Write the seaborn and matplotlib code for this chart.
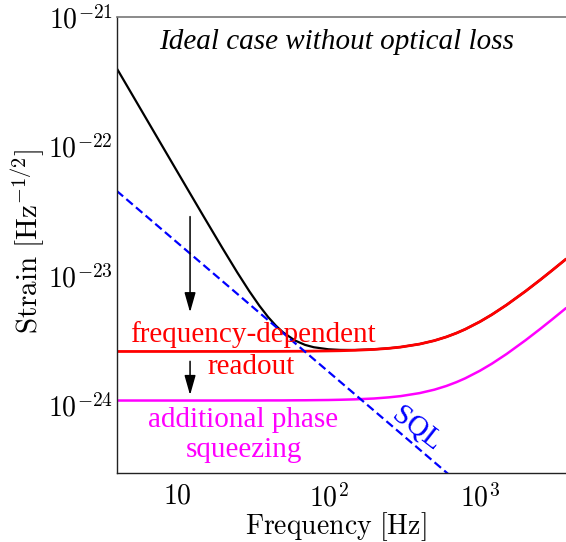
import matplotlib
matplotlib.use("Agg")
import matplotlib.pyplot as plt
import seaborn as sns
import pandas as pd

# ---- data (strain in units of 1e-24 /sqrt(Hz)) ----
freq = [4, 5, 6, 7, 8, 10, 12, 15, 20, 25, 30, 35, 40, 45, 50, 60, 70, 80,
        100, 120, 150, 200, 250, 300, 400, 500, 600, 700, 800, 1000, 1200,
        1500, 2000, 2500, 3000, 3700]
conventional = [404.0, 258.6, 179.6, 131.9, 101.0, 64.69, 44.97, 28.85, 16.37,
                10.66, 7.642, 5.889, 4.812, 4.127, 3.678, 3.176, 2.935, 2.814,
                2.713, 2.683, 2.680, 2.712, 2.762, 2.824, 2.978, 3.166, 3.382,
                3.621, 3.878, 4.435, 5.032, 5.978, 7.631, 9.335, 11.07, 13.52]
freq_dep_readout = [2.610, 2.610, 2.610, 2.610, 2.610, 2.610, 2.610, 2.611,
                    2.611, 2.612, 2.612, 2.613, 2.614, 2.615, 2.616, 2.619,
                    2.622, 2.626, 2.635, 2.645, 2.665, 2.707, 2.760, 2.823,
                    2.978, 3.166, 3.382, 3.621, 3.878, 4.435, 5.032, 5.978,
                    7.631, 9.335, 11.07, 13.52]
phase_squeezed = [1.090, 1.090, 1.090, 1.090, 1.090, 1.090, 1.090, 1.090,
                  1.090, 1.091, 1.091, 1.091, 1.092, 1.092, 1.092, 1.094,
                  1.095, 1.097, 1.100, 1.105, 1.113, 1.130, 1.153, 1.179,
                  1.244, 1.322, 1.412, 1.512, 1.619, 1.852, 2.101, 2.496,
                  3.187, 3.898, 4.622, 5.646]
sql_freq = [4, 10, 100, 1000, 3700]
sql_strain = [45.5, 18.2, 1.82, 0.182, 0.0492]
scale = 1e-24

x_ticks = [10, 100, 1000]
x_tick_labels = [r"$10$", r"$10^2$", r"$10^3$"]
y_ticks = [1e-24, 1e-23, 1e-22, 1e-21]
y_tick_labels = [r"$10^{-24}$", r"$10^{-23}$", r"$10^{-22}$", r"$10^{-21}$"]

df = pd.DataFrame({"f": freq,
                   "conv": [v * scale for v in conventional],
                   "fdr": [v * scale for v in freq_dep_readout],
                   "sqz": [v * scale for v in phase_squeezed]})
df_sql = pd.DataFrame({"f": sql_freq, "h": [v * scale for v in sql_strain]})

sns.set_theme(style="white")
plt.rcParams["mathtext.fontset"] = "cm"
plt.rcParams["font.family"] = ["Liberation Serif", "DejaVu Serif"]

fig = plt.figure(figsize=(5.66, 5.42), dpi=100)
ax = fig.add_axes([116.7 / 566, 1 - 473 / 542, 449.3 / 566, 455.7 / 542])
ax.set_xscale("log")
ax.set_yscale("log")

sns.lineplot(data=df, x="f", y="conv", ax=ax, color="black", lw=1.6, sort=False)
sns.lineplot(data=df, x="f", y="fdr", ax=ax, color="#ff0000", lw=2.0, sort=False)
sns.lineplot(data=df, x="f", y="sqz", ax=ax, color="#ff00ff", lw=1.8, sort=False)
sns.lineplot(data=df_sql, x="f", y="h", ax=ax, color="#0000ff", lw=1.6, sort=False)
ax.lines[-1].set_dashes((3.8, 1.9))

ax.set_xlim(4.0, 3700)
ax.set_ylim(3.0e-25, 1e-21)

ax.xaxis.set_major_locator(matplotlib.ticker.FixedLocator(x_ticks))
ax.xaxis.set_minor_locator(matplotlib.ticker.NullLocator())
ax.yaxis.set_major_locator(matplotlib.ticker.FixedLocator(y_ticks))
ax.yaxis.set_minor_locator(matplotlib.ticker.NullLocator())
ax.set_xticklabels(x_tick_labels)
ax.set_yticklabels(y_tick_labels)
ax.tick_params(axis="both", which="major", direction="in", length=4.5,
               width=0.8, color="#333333", labelsize=20, labelcolor="black")
ax.tick_params(axis="x", pad=8)
ax.tick_params(axis="y", pad=3)

ax.set_xlabel(r"$\mathrm{Frequency\ [Hz]}$", fontsize=20, color="black")
ax.xaxis.set_label_coords(0.4877, -0.0815)
ax.set_ylabel(r"$\mathrm{Strain\ [Hz^{-1/2}]}$", fontsize=21, labelpad=2, color="black")
ax.yaxis.set_label_coords(-0.155, 0.5095)

for side in ["left", "bottom"]:
    ax.spines[side].set_color("#222222")
    ax.spines[side].set_linewidth(1.0)
ax.spines["top"].set_color("#777777")
ax.spines["top"].set_linewidth(1.2)
ax.spines["right"].set_visible(False)

ax.text(0.490, 1 - (49.3 - 17.3) / 455.7, "Ideal case without optical loss",
        transform=ax.transAxes, ha="center", va="baseline", fontsize=21,
        style="italic", color="black")

def ax_y(py):
    return 1 - (py - 17.3) / 455.7

def ax_x(px):
    return (px - 116.7) / 449.3

ax.text(ax_x(252.5), ax_y(341.7), "frequency-dependent", transform=ax.transAxes,
        ha="center", va="baseline", fontsize=21, color="#ff0000")
ax.text(ax_x(250.8), ax_y(374.0), "readout", transform=ax.transAxes,
        ha="center", va="baseline", fontsize=21, color="#ff0000")
ax.text(ax_x(243.5), ax_y(426.7), "additional phase", transform=ax.transAxes,
        ha="center", va="baseline", fontsize=21, color="#ff00ff")
ax.text(ax_x(244.2), ax_y(456.7), "squeezing", transform=ax.transAxes,
        ha="center", va="baseline", fontsize=21, color="#ff00ff")
ax.text(384, 6.53e-25, "SQL", ha="center", va="center", fontsize=21,
        color="#0000ff", rotation=-38, rotation_mode="anchor")

arrow_kw = dict(arrowstyle="-|>,head_length=0.6,head_width=0.17",
                mutation_scale=20, lw=1.1, color="black", shrinkA=0, shrinkB=0)
ax.annotate("", xy=(12.2, 5.24e-24), xytext=(12.2, 2.88e-23), arrowprops=arrow_kw)
ax.annotate("", xy=(12.2, 1.20e-24), xytext=(12.2, 2.19e-24), arrowprops=arrow_kw)

fig.savefig("out.png", dpi=100)
